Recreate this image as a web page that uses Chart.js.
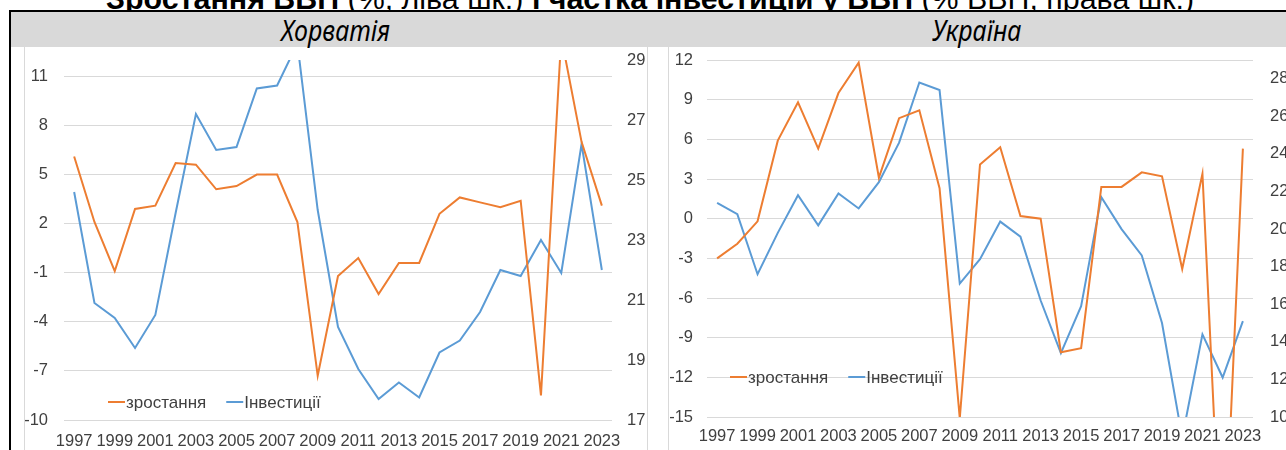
<!DOCTYPE html>
<html lang="uk">
<head>
<meta charset="utf-8">
<script src="https://cdn.jsdelivr.net/npm/chart.js@4.4.1/dist/chart.umd.min.js"></script>
<style>
  body { margin: 0; width: 1286px; height: 450px; overflow: hidden; background: #fff; position: relative; }
  #title { position: absolute; left: 0; width: 1300px; top: -17px; text-align: center; white-space: nowrap;
           font: 30.4px/30px "Liberation Sans", Arial, sans-serif; color: #000; }
  #frame { position: absolute; left: 9px; top: 10px; width: 1300px; height: 460px;
           border-left: 2px solid #000; border-top: 2px solid #000; }
  #band { position: absolute; left: 11px; top: 12px; width: 1290px; height: 35px; background: #d9d9d9; }
  .head { position: absolute; top: 12px; height: 35px; line-height: 35px; text-align: center;
          font: italic 29px/35px "Noto Sans", sans-serif; color: #000; }
  .head span { display: inline-block; transform: scaleX(0.86); }
  .vline { position: absolute; top: 47px; width: 1px; height: 403px; background: #d9d9d9; }
  canvas { position: absolute; top: 47px; }
</style>
</head>
<body>
<div id="title"><b>Зростання ВВП</b> (%, ліва шк.) <b>і частка інвестицій у ВВП</b> (% ВВП, права шк.)</div>
<div id="frame"></div>
<div id="band"></div>
<div class="head" style="left:24px;width:623px"><span>Хорватія</span></div>
<div class="head" style="left:668px;width:618px"><span>Україна</span></div>
<div class="vline" style="left:24px"></div>
<div class="vline" style="left:647px"></div>
<div class="vline" style="left:668px"></div>
<canvas id="graficoCroacia" width="622" height="403" style="left:25px"></canvas>
<canvas id="graficoUcrania" width="617" height="403" style="left:669px"></canvas>
<script>
// Роки
const years = ["1997", "1998", "1999", "2000", "2001", "2002", "2003", "2004", "2005",
  "2006", "2007", "2008", "2009", "2010", "2011", "2012", "2013", "2014", "2015",
  "2016", "2017", "2018", "2019", "2020", "2021", "2022", "2023"];

// Хорватія: зростання ВВП (%) і інвестиції (% ВВП)
const croGrowth = [6.1, 2.1, -0.9, 2.9, 3.1, 5.7, 5.6, 4.1, 4.3, 5.0, 5.0, 2.1, -7.3,
  -1.2, -0.1, -2.3, -0.4, -0.4, 2.6, 3.6, 3.3, 3.0, 3.4, -8.5, 13.4, 7.0, 3.1];
const croInvest = [24.6, 20.9, 20.4, 19.4, 20.5, 23.9, 27.2, 26.0, 26.1, 28.05, 28.15, 29.55, 24.0,
  20.1, 18.7, 17.7, 18.25, 17.75, 19.25, 19.65, 20.6, 22.0, 21.8, 23.0, 21.9, 26.2, 22.0];

// Україна
const ukrGrowth = [-3.0, -1.9, -0.2, 5.9, 8.8, 5.3, 9.5, 11.8, 3.1, 7.6, 8.2, 2.3, -15.1,
  4.1, 5.4, 0.2, 0.0, -10.1, -9.8, 2.4, 2.4, 3.5, 3.2, -3.8, 3.4, -28.8, 5.3];
const ukrInvest = [21.4, 20.8, 17.6, 19.8, 21.8, 20.2, 21.9, 21.1, 22.5, 24.6, 27.8, 27.4, 17.1,
  18.4, 20.4, 19.6, 16.2, 13.4, 15.9, 21.7, 20.0, 18.6, 15.0, 8.9, 14.4, 12.1, 15.1];

// Tick labels
const croLeftTicks = [-10, -7, -4, -1, 2, 5, 8, 11];
const croRightTicks = [17, 19, 21, 23, 25, 27, 29];
const ukrLeftTicks = [-15, -12, -9, -6, -3, 0, 3, 6, 9, 12];
const ukrRightTicks = [10, 12, 14, 16, 18, 20, 22, 24, 26, 28];

const seriesLabels = ["зростання", "Інвестиції"];
const ORANGE = "#ed7d31";
const BLUE = "#5b9bd5";
const TEXT = "#404040";
const FONT = '"Liberation Sans", Arial, sans-serif';

// legend inside the plot area, bottom left
const legendInside = {
  id: "legendInside",
  afterDraw(chart, args, opts) {
    const ctx = chart.ctx;
    const area = chart.chartArea;
    let x = area.left + opts.dx;
    const y = area.bottom - opts.dy;
    ctx.save();
    ctx.font = "17px " + FONT;
    ctx.textBaseline = "middle";
    chart.data.datasets.forEach((ds) => {
      ctx.strokeStyle = ds.borderColor;
      ctx.lineWidth = 2;
      ctx.beginPath();
      ctx.moveTo(x, y);
      ctx.lineTo(x + 17, y);
      ctx.stroke();
      x += 18;
      ctx.fillStyle = TEXT;
      ctx.fillText(ds.label, x, y + 1);
      x += ctx.measureText(ds.label).width + 20;
    });
    ctx.restore();
  },
};

function criarGrafico(id, growth, invest, cfg) {
  const fixedTicks = (list) => (scale) => {
    scale.ticks = list.map((v) => ({ value: v }));
  };
  // invisible tick marks give the gap between labels and plot
  // (tick padding would also push the plot area down)
  return new Chart(document.getElementById(id), {
    type: "line",
    data: {
      labels: years,
      datasets: [
        { label: seriesLabels[0], data: growth, yAxisID: "y", borderColor: ORANGE,
          borderWidth: 2, pointRadius: 0, tension: 0 },
        { label: seriesLabels[1], data: invest, yAxisID: "y1", borderColor: BLUE,
          borderWidth: 2, pointRadius: 0, tension: 0 },
      ],
    },
    options: {
      responsive: false,
      animation: false,
      layout: { padding: { top: 13, left: 0, right: 0, bottom: 0 } },
      plugins: {
        legend: { display: false },
        tooltip: { enabled: false },
        legendInside: { dx: cfg.legendDx, dy: cfg.legendDy },
      },
      scales: {
        x: {
          offset: true,
          grid: { display: false, drawTicks: false },
          border: { display: false },
          ticks: {
            autoSkip: false, maxRotation: 0, padding: cfg.xPad, color: TEXT,
            font: { family: FONT, size: 16.5 },
            callback: function (v, i) { return i % 2 === 0 ? this.getLabelForValue(v) : ""; },
          },
          afterFit: (s) => { s.height = cfg.xHeight; },
        },
        y: {
          position: "left", min: cfg.leftMin, max: cfg.leftMax,
          grid: { color: "#d9d9d9", lineWidth: 1, drawTicks: true, tickLength: cfg.leftPad,
                  tickColor: "rgba(0,0,0,0)" },
          border: { display: false },
          ticks: { padding: 0, color: TEXT, font: { family: FONT, size: 16.5 } },
          afterBuildTicks: fixedTicks(cfg.leftTicks),
          afterFit: (s) => { s.width = cfg.leftWidth; },
        },
        y1: {
          position: "right", min: cfg.rightMin, max: cfg.rightMax,
          grid: { display: true, drawOnChartArea: false, drawTicks: true, tickLength: cfg.rightPad,
                  tickColor: "rgba(0,0,0,0)" },
          border: { display: false },
          ticks: { padding: 0, color: TEXT, font: { family: FONT, size: 16.5 } },
          afterBuildTicks: fixedTicks(cfg.rightTicks),
          afterFit: (s) => { s.width = cfg.rightWidth; },
        },
      },
    },
    plugins: [legendInside],
  });
}

const graficoCroacia = criarGrafico("graficoCroacia", croGrowth, croInvest, {
  leftMin: -10, leftMax: 12, leftTicks: croLeftTicks, leftWidth: 39, leftPad: 16,
  rightMin: 17, rightMax: 29, rightTicks: croRightTicks, rightWidth: 35, rightPad: 15,
  xHeight: 30, xPad: 12, legendDx: 44, legendDy: 18,
});

const graficoUcrania = criarGrafico("graficoUcrania", ukrGrowth, ukrInvest, {
  leftMin: -15, leftMax: 12, leftTicks: ukrLeftTicks, leftWidth: 38, leftPad: 14,
  rightMin: 10, rightMax: 29, rightTicks: ukrRightTicks, rightWidth: 33, rightPad: 17,
  xHeight: 33, xPad: 10, legendDx: 23, legendDy: 40,
});
</script>
</body>
</html>
